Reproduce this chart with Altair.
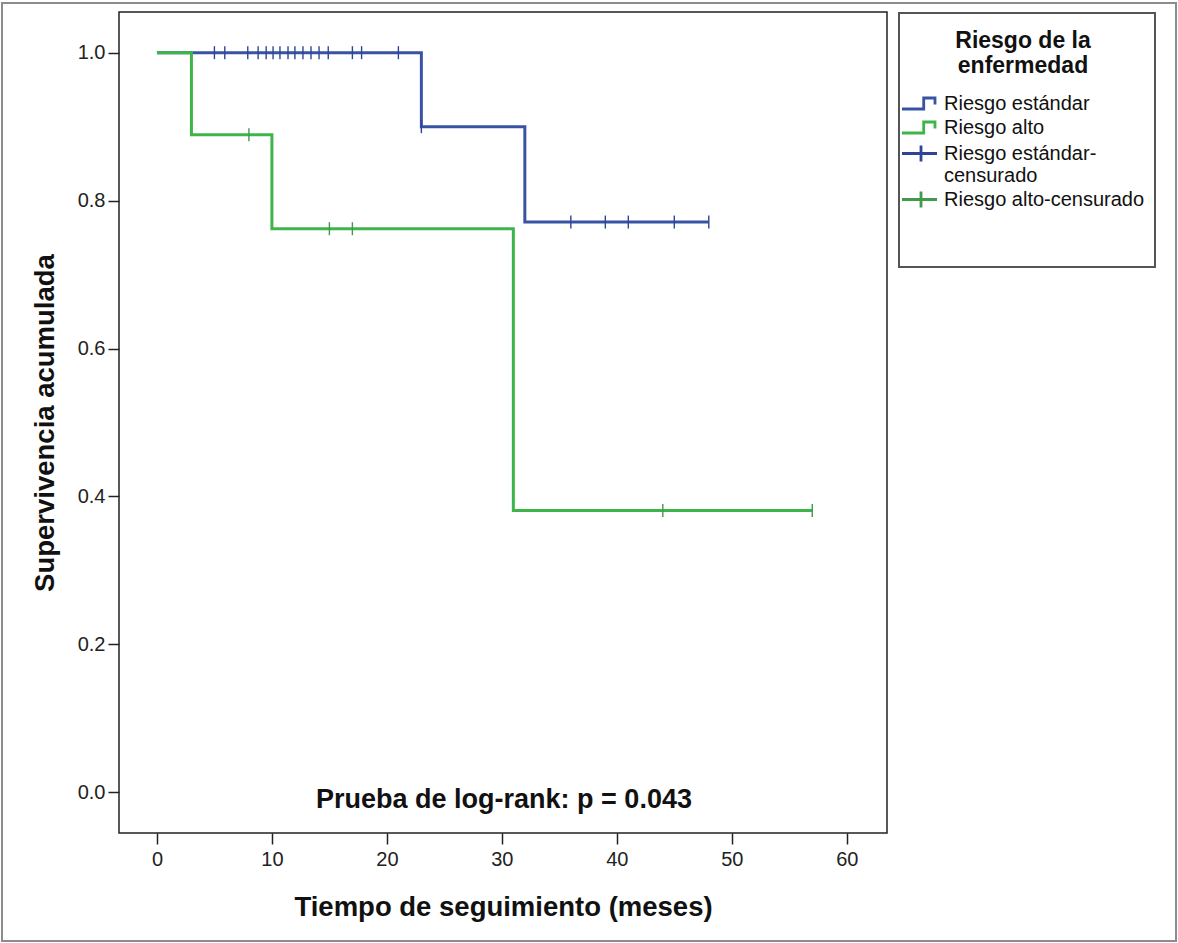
import altair as alt
import pandas as pd

# ---- data ----
groups = ["Riesgo estándar", "Riesgo alto", "Riesgo estándar-censurado", "Riesgo alto-censurado"]
group_colors = ["#3953A4", "#3DB54A", "#2E4596", "#3F9A4C"]

std_time = [0, 23, 32, 48]
std_surv = [1.0, 0.9, 0.771, 0.771]
high_time = [0, 3, 10, 31, 57]
high_surv = [1.0, 0.889, 0.762, 0.381, 0.381]

std_cens_time = [5.0, 5.9, 7.9, 8.8, 9.5, 10.1, 10.7, 11.4, 12.0, 12.7, 13.4, 14.1,
                 14.9, 17.0, 17.8, 21.0, 23.0, 36.0, 39.0, 41.0, 45.0, 48.0]
std_cens_surv = [1.0, 1.0, 1.0, 1.0, 1.0, 1.0, 1.0, 1.0, 1.0, 1.0, 1.0, 1.0,
                 1.0, 1.0, 1.0, 1.0, 0.9, 0.771, 0.771, 0.771, 0.771, 0.771]
high_cens_time = [8, 15, 17, 44, 57]
high_cens_surv = [0.889, 0.762, 0.762, 0.381, 0.381]

x_ticks = [0, 10, 20, 30, 40, 50, 60]
y_ticks = [0.0, 0.2, 0.4, 0.6, 0.8, 1.0]
annotation = ["Prueba de log-rank: p = 0.043"]

# legend symbol paths (step line and censor cross)
step_path = "M-2,1.1L2.34,1.1L2.34,-1.1L4.6,-1.1L4.6,0.2"
cross_path = "M-2,0L5,0M1.8,-1.6L1.8,1.6"
symbol_paths = [step_path, step_path, cross_path, cross_path]
symbol_widths = [2.8, 2.8, 1.2, 1.2]

# ---- tables ----
std_curve = pd.DataFrame({"tiempo": std_time, "supervivencia": std_surv})
high_curve = pd.DataFrame({"tiempo": high_time, "supervivencia": high_surv})
std_cens = pd.DataFrame({"tiempo": std_cens_time, "supervivencia": std_cens_surv})
high_cens = pd.DataFrame({"tiempo": high_cens_time, "supervivencia": high_cens_surv})
legend_df = pd.DataFrame({"grupo": groups})
one_row = pd.DataFrame({"k": [0]})

W, H = 768, 821
FONT = "Liberation Sans"

x_scale = alt.Scale(domain=[-3.3, 63.5], nice=False, zero=False)
y_scale = alt.Scale(domain=[-0.055, 1.055], nice=False, zero=False)

x_axis = alt.Axis(title="Tiempo de seguimiento (meses)", values=x_ticks, format="d",
                  labelPadding=5, titlePadding=24)
y_axis = alt.Axis(title="Supervivencia acumulada", values=y_ticks, format=".1f",
                  labelPadding=3, titlePadding=18)

X = alt.X("tiempo:Q", scale=x_scale, axis=x_axis)
Y = alt.Y("supervivencia:Q", scale=y_scale, axis=y_axis)

legend = alt.Legend(
    title=["Riesgo de la", "enfermedad"],
    orient="none", legendX=783, legendY=18, padding=0,
    titleFont=FONT, titleFontSize=23, titleFontWeight="bold", titleColor="#111",
    titleAlign="center", titleAnchor="middle", titleLineHeight=24.5, titlePadding=16,
    labelFont=FONT, labelFontSize=20, labelColor="#111", labelLimit=400, labelOffset=22,
    labelExpr="datum.label == 'Riesgo estándar-censurado' ? ['Riesgo estándar-', 'censurado'] : datum.label",
    symbolSize=100, symbolOpacity=1, rowPadding=0,
)

outer = alt.Chart(one_row).mark_rect(filled=False, color="#8c8c8c", strokeWidth=2).encode(
    x=alt.value(-117), x2=alt.value(1057), y=alt.value(-9), y2=alt.value(929))
legend_box = alt.Chart(one_row).mark_rect(filled=False, color="#555555", strokeWidth=2).encode(
    x=alt.value(780), x2=alt.value(1036), y=alt.value(1), y2=alt.value(255))

line_std = alt.Chart(std_curve).mark_line(
    interpolate="step-after", strokeWidth=3, color=group_colors[0]).encode(x=X, y=Y)
line_high = alt.Chart(high_curve).mark_line(
    interpolate="step-after", strokeWidth=3, color=group_colors[1]).encode(x=X, y=Y)

cens_std = alt.Chart(std_cens).mark_point(
    shape="M0,-1L0,1", size=169, strokeWidth=1.4, filled=False, opacity=1,
    color=group_colors[2]).encode(x=X, y=Y)
cens_high = alt.Chart(high_cens).mark_point(
    shape="M0,-1L0,1", size=169, strokeWidth=1.4, filled=False, opacity=1,
    color=group_colors[3]).encode(x=X, y=Y)

leg = alt.Chart(legend_df).mark_point(opacity=0, filled=False).encode(
    color=alt.Color("grupo:N", scale=alt.Scale(domain=groups, range=group_colors), legend=legend),
    shape=alt.Shape("grupo:N", scale=alt.Scale(domain=groups, range=symbol_paths), legend=legend),
    strokeWidth=alt.StrokeWidth("grupo:N", scale=alt.Scale(domain=groups, range=symbol_widths), legend=legend),
)

note = alt.Chart(pd.DataFrame({"texto": annotation})).mark_text(
    font=FONT, fontSize=27, fontWeight="bold", align="center", baseline="middle", color="#111"
).encode(text="texto:N", x=alt.value(385), y=alt.value(788))

chart = alt.layer(outer, legend_box, line_std, line_high, cens_std, cens_high, leg, note).properties(
    width=W, height=H,
    padding={"left": 1, "top": 2, "right": 0, "bottom": 0},
    background="white",
).configure_view(
    stroke="#222222", strokeWidth=1.5
).configure_axis(
    domain=False, grid=False, ticks=True, tickColor="#222222", tickWidth=1.5, tickSize=11,
    labelFont=FONT, labelFontSize=20, labelColor="#222222",
    titleFont=FONT, titleFontSize=27.5, titleFontWeight="bold", titleColor="#111111",
)

chart.save("out.html", embed_options={"renderer": "svg", "actions": False})
